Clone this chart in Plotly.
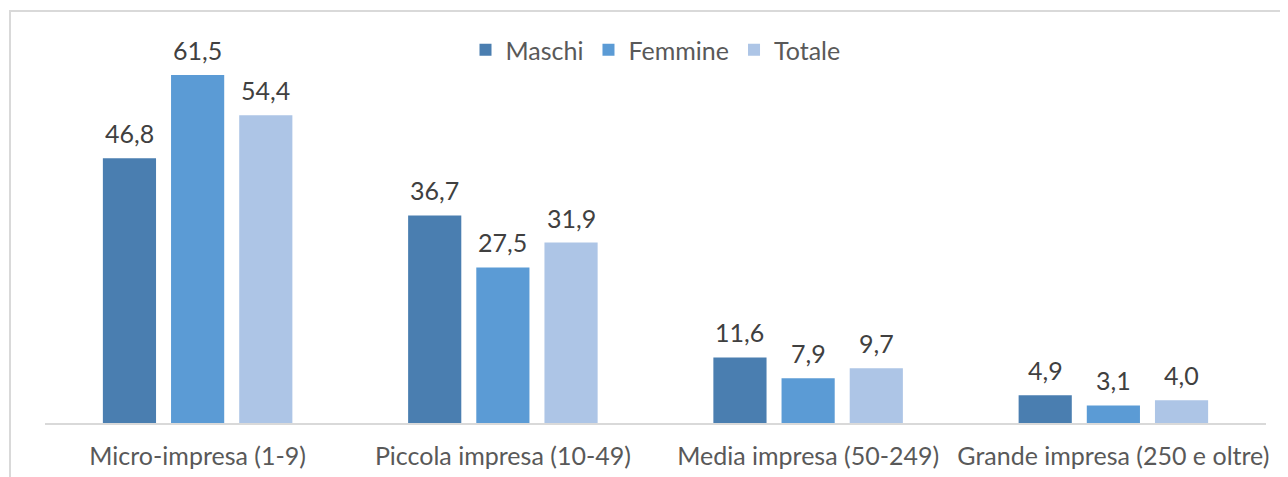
import plotly.graph_objects as go

categories = ["Micro-impresa (1-9)", "Piccola impresa (10-49)", "Media impresa (50-249)", "Grande impresa (250 e oltre)"]
maschi = [46.8, 36.7, 11.6, 4.9]
femmine = [61.5, 27.5, 7.9, 3.1]
totale = [54.4, 31.9, 9.7, 4.0]

series = [("Maschi", maschi, "#4a7eb0"), ("Femmine", femmine, "#5b9bd5"), ("Totale", totale, "#adc5e6")]

FONT = "Lato, Noto Sans, sans-serif"
FS = 25
W, H = 1288, 477
OFF = 8  # page body margin offset
ml, mr, mt, mb = 45 - OFF, 22 + OFF, 27 - OFF, 54 + OFF
pw, ph = W - ml - mr, H - mt - mb
px = lambda x: (x - OFF - ml) / pw
py = lambda y: (H - mb - (y - OFF)) / ph
slot = pw / len(categories) * (1 - 0.33) / 3

fig = go.Figure()
annotations = []
for i, (name, vals, col) in enumerate(series):
    fig.add_trace(go.Bar(name=name, x=categories, y=vals, marker_color=col, marker_line_width=0))
    for c, v in zip(categories, vals):
        annotations.append(dict(x=c, y=v, xref="x", yref="y", text=f"{v:.1f}".replace(".", ","),
                                showarrow=False, yanchor="bottom", xshift=(i - 1) * slot, yshift=8,
                                font=dict(size=FS, color="#404040", family=FONT)))

fig.update_layout(
    width=W, height=H, autosize=False,
    margin=dict(l=ml, r=mr, t=mt, b=mb, autoexpand=False),
    paper_bgcolor="white", plot_bgcolor="white",
    barmode="group", bargap=0.33, bargroupgap=0.22,
    font=dict(family=FONT, size=FS, color="#595959"),
    showlegend=True,
    legend=dict(orientation="h", x=0.5, xanchor="center", y=py(50), yanchor="middle",
                font=dict(size=FS, color="#595959"), traceorder="normal",
                bgcolor="rgba(0,0,0,0)", itemwidth=30),
    xaxis=dict(showline=True, linecolor="#d9d9d9", linewidth=2, ticks="", showgrid=False,
               automargin=False, tickfont=dict(size=FS, color="#595959"), ticklabelstandoff=10),
    yaxis=dict(range=[0, 70], visible=False, showgrid=False, zeroline=False, automargin=False),
    annotations=annotations,
    shapes=[dict(type="path", xref="paper", yref="paper", layer="below",
                 path=f"M {px(10)},{py(490)} L {px(10)},{py(11)} L {px(1310)},{py(11)}",
                 line=dict(color="#d9d9d9", width=2))],
)

fig.write_html("out.html")
